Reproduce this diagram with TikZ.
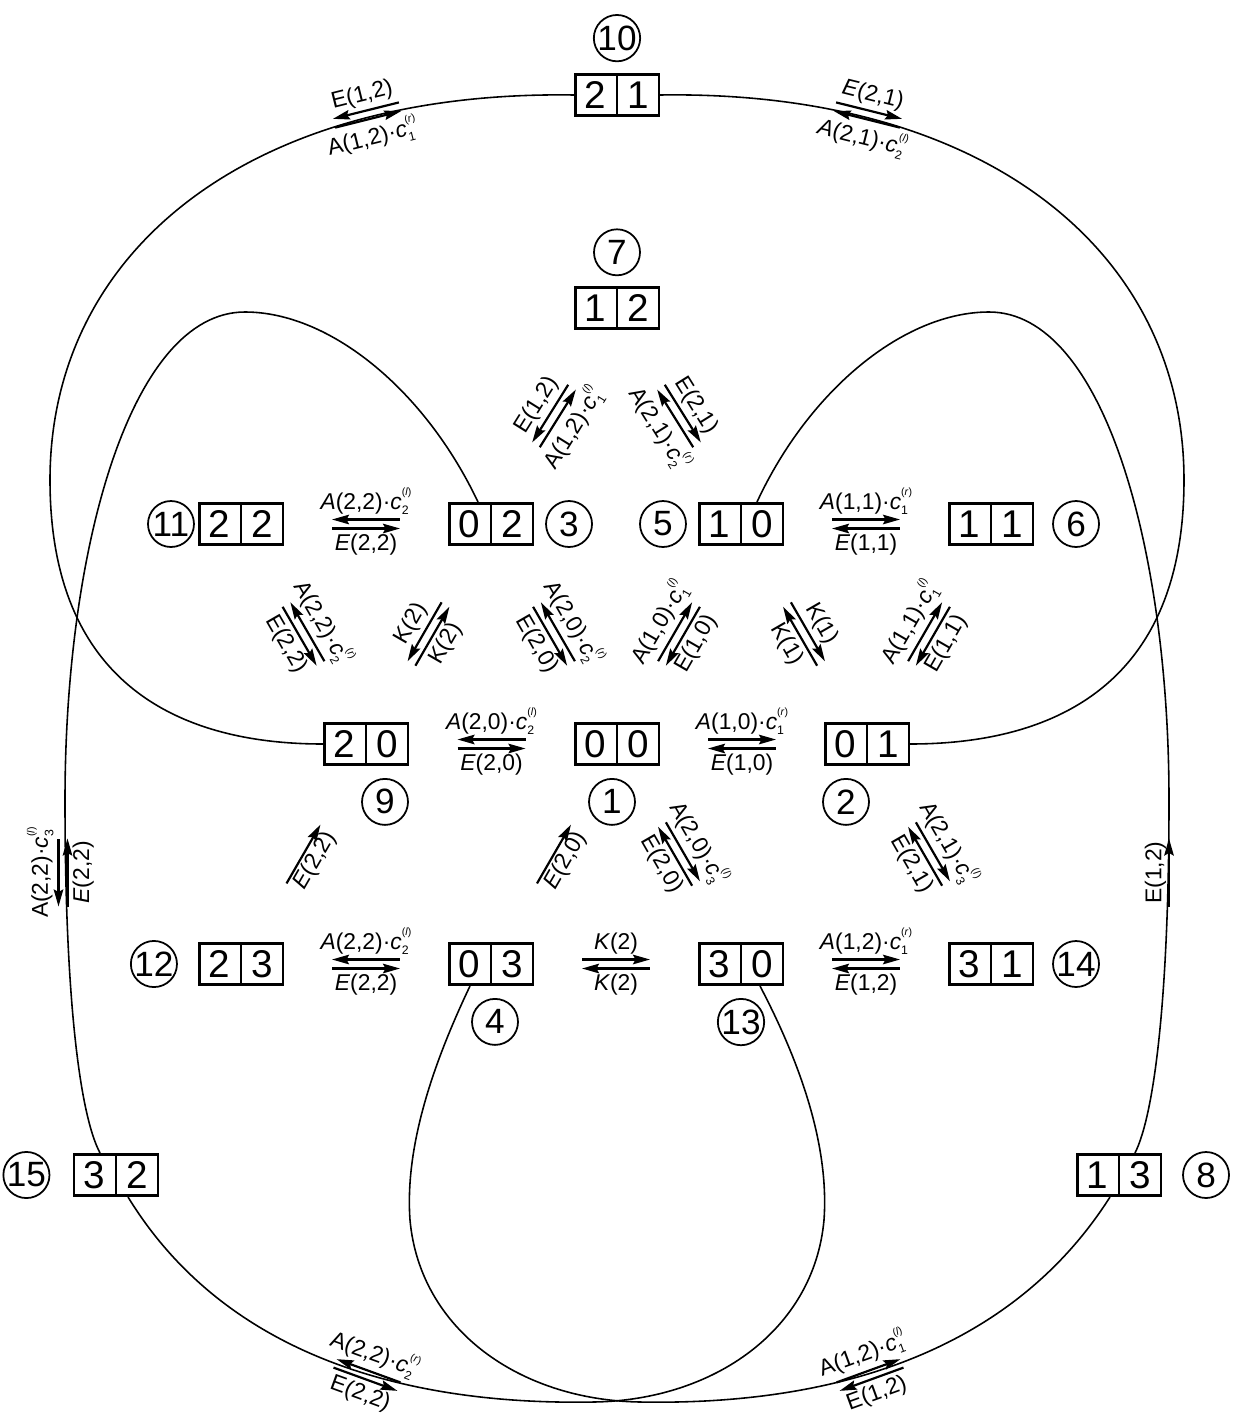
\documentclass[tikz,border=0pt]{standalone}
\usepackage{fontspec}
\setmainfont{Liberation Sans}
\usetikzlibrary{arrows.meta, positioning, calc, shapes.multipart}

% c with stacked sub- and superscript
\newcommand{\cf}[2]{\textit{c}\rlap{\raisebox{-0.45ex}{\fontsize{7}{7}\selectfont #1}}\raisebox{1.1ex}{\fontsize{6}{6}\selectfont(\textit{#2})}}

% two opposite reaction arrows, turned by #3
\newcommand{\rxnpair}[7]{%
  \begin{scope}[shift={#2}, rotate=#3]
    \draw[rx, #4] (-0.68, 0.09) -- (0.68, 0.09);
    \draw[rx, #5] (-0.68,-0.09) -- (0.68,-0.09);
    \node[lbl, above, transform shape] (#1u) at (0, 0.13) {#6};
    \node[lbl, below, transform shape] (#1d) at (0,-0.13) {#7};
  \end{scope}}

% one reaction arrow
\newcommand{\rxnone}[5]{%
  \begin{scope}[shift={#2}, rotate=#3]
    \draw[rx, fw] (-0.68,0) -- (0.68,0);
    \node[lbl, #4, transform shape] (#1) at (0,0) {#5};
  \end{scope}}

\begin{document}
\begin{tikzpicture}[
    state/.style={rectangle split, rectangle split horizontal, rectangle split parts=2,
                  draw, line width=1.5pt, inner xsep=0.19cm, inner ysep=0.14cm,
                  font=\fontsize{22}{24}\selectfont},
    num/.style={circle, draw, line width=1pt, minimum size=0.92cm, inner sep=0pt,
                font=\fontsize{20}{22}\selectfont},
    link/.style={line width=0.9pt},
    rx/.style={line width=1.25pt},
    fw/.style={-{Stealth[length=3.4mm, width=1.9mm, inset=0.5mm]}},
    bw/.style={{Stealth[length=3.4mm, width=1.9mm, inset=0.5mm]}-},
    lbl/.style={font=\fontsize{13}{15}\selectfont, inner sep=1.5pt}
]
\useasboundingbox (0,0) rectangle (24.76,-28.34);

% states
\node[state] (s10) at (12.34,-1.90)  {2\nodepart{two}1};
\node[state] (s7)  at (12.34,-6.16)  {1\nodepart{two}2};
\node[state] (s11) at (4.82,-10.48)  {2\nodepart{two}2};
\node[state] (s3)  at (9.82,-10.48)  {0\nodepart{two}2};
\node[state] (s5)  at (14.82,-10.48) {1\nodepart{two}0};
\node[state] (s6)  at (19.82,-10.48) {1\nodepart{two}1};
\node[state] (s9)  at (7.32,-14.88)  {2\nodepart{two}0};
\node[state] (s1)  at (12.34,-14.88) {0\nodepart{two}0};
\node[state] (s2)  at (17.34,-14.88) {0\nodepart{two}1};
\node[state] (s12) at (4.82,-19.28)  {2\nodepart{two}3};
\node[state] (s4)  at (9.82,-19.28)  {0\nodepart{two}3};
\node[state] (s13) at (14.82,-19.28) {3\nodepart{two}0};
\node[state] (s14) at (19.82,-19.28) {3\nodepart{two}1};
\node[state] (s15) at (2.32,-23.50)  {3\nodepart{two}2};
\node[state] (s8)  at (22.38,-23.50) {1\nodepart{two}3};

% state numbers
\node[num, above=0.22cm of s10] (n10) {10};
\node[num, above=0.2cm of s7] (n7) {7};
\node[num, left=0.06cm of s11] (n11) {11};
\node[num, right=0.22cm of s3] (n3) {3};
\node[num, left=0.22cm of s5] (n5) {5};
\node[num, right=0.36cm of s6] (n6) {6};
\node[num, below=0.24cm of s9, xshift=0.38cm] (n9) {9};
\node[num, below=0.24cm of s1, xshift=-0.1cm] (n1) {1};
\node[num, below=0.24cm of s2, xshift=-0.42cm] (n2) {2};
\node[num, left=0.4cm of s12] (n12) {12};
\node[num, below=0.24cm of s4, xshift=0.08cm] (n4) {4};
\node[num, below=0.24cm of s13] (n13) {13};
\node[num, right=0.36cm of s14] (n14) {14};
\node[num, left=0.45cm of s15] (n15) {15};
\node[num, right=0.4cm of s8] (n8) {8};

% long links
\draw[link] (s10.west) .. controls (5.0,-1.8) and (1.0,-5.0) .. (1.0,-9.6)
    .. controls (1.0,-14.0) and (4.0,-14.88) .. (s9.west);
\draw[link] (s10.east) .. controls (19.68,-1.8) and (23.68,-5.0) .. (23.68,-9.6)
    .. controls (23.68,-14.0) and (20.68,-14.88) .. (s2.east);
\draw[link] ([xshift=-0.26cm]s3.north) .. controls (8.5,-7.8) and (6.6,-6.24) .. (4.9,-6.24)
    .. controls (2.6,-6.24) and (1.3,-11) .. (1.3,-16)
    .. controls (1.3,-20) and (1.6,-22.3) .. ([xshift=-0.32cm]s15.north);
\draw[link] ([xshift=0.32cm]s5.north) .. controls (16.18,-7.8) and (18.08,-6.24) .. (19.78,-6.24)
    .. controls (22.08,-6.24) and (23.38,-11) .. (23.38,-16)
    .. controls (23.38,-20) and (23.08,-22.3) .. ([xshift=0.32cm]s8.north);
\draw[link] ([xshift=-0.42cm]s4.south) .. controls (8.6,-21.4) and (8.1,-23.0) .. (8.2,-24.4)
    .. controls (8.4,-26.6) and (10.4,-28.0) .. (12.8,-28.04)
    .. controls (16.0,-28.1) and (20.0,-27.4) .. ([xshift=-0.18cm]s8.south);
\draw[link] ([xshift=0.38cm]s13.south) .. controls (16.08,-21.4) and (16.58,-23.0) .. (16.48,-24.4)
    .. controls (16.28,-26.6) and (14.28,-28.0) .. (11.88,-28.04)
    .. controls (8.68,-28.1) and (4.68,-27.4) .. ([xshift=0.24cm]s15.south);

% reaction arrows
\rxnpair{d1}{($(s3)!0.5!(s7)$)}{58}{bw}{fw}{E(1,2)}{A(1,2)·\cf{1}{l}}
\rxnpair{d2}{($(s7)!0.5!(s5)$)}{-58}{fw}{bw}{E(2,1)}{A(2,1)·\cf{2}{r}}
\rxnpair{h1}{($(s11)!0.5!(s3)$)}{0}{bw}{fw}{\textit{A}(2,2)·\cf{2}{l}}{\textit{E}(2,2)}
\rxnpair{h2}{($(s5)!0.5!(s6)$)}{0}{fw}{bw}{\textit{A}(1,1)·\cf{1}{r}}{\textit{E}(1,1)}
\rxnpair{d3}{($(s11)!0.5!(s9)$)}{-60}{bw}{fw}{A(2,2)·\cf{2}{r}}{E(2,2)}
\rxnpair{d4}{($(s9)!0.5!(s3)$)}{60}{bw}{fw}{K(2)}{K(2)}
\rxnpair{d5}{($(s3)!0.5!(s1)$)}{-60}{bw}{fw}{A(2,0)·\cf{2}{r}}{E(2,0)}
\rxnpair{d6}{($(s1)!0.5!(s5)$)}{60}{fw}{bw}{A(1,0)·\cf{1}{l}}{E(1,0)}
\rxnpair{d7}{($(s5)!0.5!(s2)$)}{-60}{fw}{bw}{K(1)}{K(1)}
\rxnpair{d8}{($(s2)!0.5!(s6)$)}{60}{fw}{bw}{A(1,1)·\cf{1}{l}}{E(1,1)}
\rxnpair{h3}{($(s9)!0.5!(s1)$)}{0}{bw}{fw}{\textit{A}(2,0)·\cf{2}{l}}{\textit{E}(2,0)}
\rxnpair{h4}{($(s1)!0.5!(s2)$)}{0}{fw}{bw}{\textit{A}(1,0)·\cf{1}{r}}{\textit{E}(1,0)}
\rxnone{e1}{($(s12)!0.5!(s9)$)}{60}{below}{\textit{E}(2,2)}
\rxnone{e2}{($(s4)!0.5!(s1)$)}{60}{below}{\textit{E}(2,0)}
\rxnpair{d9}{($(s1)!0.5!(s13)$)}{-60}{fw}{bw}{A(2,0)·\cf{3}{l}}{E(2,0)}
\rxnpair{d10}{($(s2)!0.5!(s14)$)}{-60}{fw}{bw}{A(2,1)·\cf{3}{l}}{E(2,1)}
\rxnpair{h5}{($(s12)!0.5!(s4)$)}{0}{bw}{fw}{\textit{A}(2,2)·\cf{2}{l}}{\textit{E}(2,2)}
\rxnpair{h6}{($(s4)!0.5!(s13)$)}{0}{fw}{bw}{\textit{K}(2)}{\textit{K}(2)}
\rxnpair{h7}{($(s13)!0.5!(s14)$)}{0}{fw}{bw}{\textit{A}(1,2)·\cf{1}{r}}{\textit{E}(1,2)}
\rxnpair{t1}{(7.34,-2.30)}{14}{bw}{fw}{E(1,2)}{A(1,2)·\cf{1}{r}}
\rxnpair{t2}{(17.36,-2.30)}{-14}{fw}{bw}{\textit{E}(2,1)}{\textit{A}(2,1)·\cf{2}{l}}
\rxnpair{v1}{(1.26,-17.45)}{90}{bw}{fw}{A(2,2)·\cf{3}{l}}{\textit{E}(2,2)}
\rxnone{v2}{(23.38,-17.45)}{90}{above}{E(1,2)}
\rxnpair{b1}{(7.34,-27.5)}{-20}{bw}{fw}{A(2,2)·\cf{2}{r}}{E(2,2)}
\rxnpair{b2}{(17.4,-27.5)}{20}{fw}{bw}{A(1,2)·\cf{1}{l}}{E(1,2)}
\end{tikzpicture}
\end{document}
